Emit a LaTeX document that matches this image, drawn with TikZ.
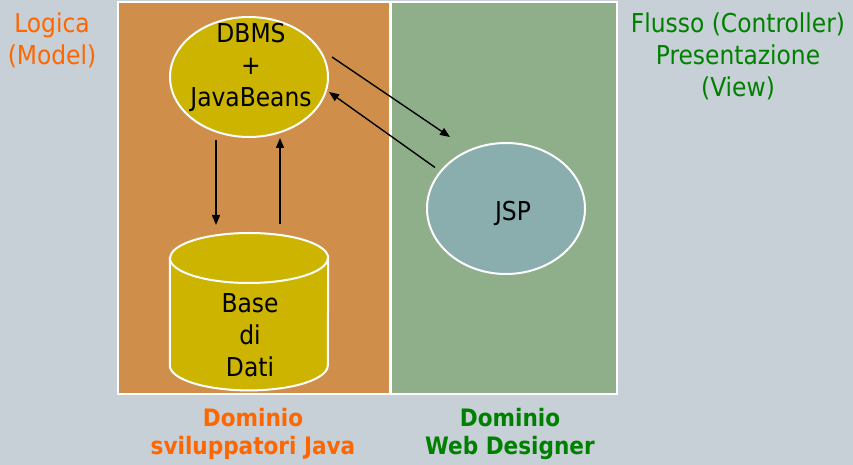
\documentclass[tikz,border=0pt]{standalone}
\usepackage{fontspec}
\setmainfont{DejaVu Sans Condensed}
\usetikzlibrary{shapes.geometric,arrows.meta,calc}
\definecolor{bgc}{RGB}{198,208,214}
\definecolor{orangep}{RGB}{208,142,75}
\definecolor{greenp}{RGB}{143,175,139}
\definecolor{yell}{RGB}{204,180,0}
\definecolor{jspc}{RGB}{138,173,173}
\definecolor{otext}{RGB}{255,102,0}
\definecolor{gtext}{RGB}{0,128,0}
\begin{document}
\begin{tikzpicture}[x=1pt,y=1pt,
  panel/.style={draw=white,line width=2pt,minimum height=392pt,inner sep=0pt,anchor=north west},
  blob/.style={ellipse,draw=white,line width=2pt,inner sep=0pt,minimum width=158pt},
  lbl/.style={font=\fontsize{26}{32}\selectfont,align=center,anchor=base,inner sep=0pt},
  blbl/.style={font=\bfseries\fontsize{24}{28}\selectfont,align=center,anchor=base,inner sep=0pt},
  txt/.style={font=\fontsize{26}{32}\selectfont,align=center,anchor=base,inner sep=0pt},
  arr/.style={line width=1.4pt,-{Triangle[length=10pt,width=8pt]}}]
\fill[bgc] (0,0) rectangle (853,465);
\useasboundingbox (0,0) rectangle (853,465);
% panels
\node[panel,fill=orangep,minimum width=272pt] (java) at (117,464) {};
\node[panel,fill=greenp,minimum width=226pt] (web) at (390,464) {};
% DBMS ellipse
\node[blob,fill=yell,minimum height=120pt] (dbms) at (249,388) {};
\node[txt] (dbmst) at (251,358) {DBMS\\+\\JavaBeans};
% JSP ellipse
\node[blob,fill=jspc,minimum height=131pt] (jsp) at (506,256.5) {};
\node[txt] (jspt) at (513,244) {JSP};
% cylinder
\node[minimum width=158pt,minimum height=157pt,inner sep=0pt,anchor=north] (db) at (249,232) {};
\fill[yell,draw=white,line width=2pt]
  ($(db.north west)+(0,-25)$) -- ($(db.south west)+(0,25)$)
  arc[start angle=180,end angle=360,x radius=79pt,y radius=25pt]
  -- ($(db.north east)+(0,-25)$)
  arc[start angle=0,end angle=180,x radius=79pt,y radius=25pt] -- cycle;
\draw[white,line width=2pt] ($(db.north west)+(0,-25)$)
  arc[start angle=180,end angle=360,x radius=79pt,y radius=25pt];
\node[txt] (dbt) at (250,88) {Base\\di\\Dati};
% arrows
\draw[arr] ($(dbms.center)+(-33,-63)$) -- ($(db.north)+(-33,8)$);
\draw[arr] ($(db.north)+(31,9)$) -- ($(dbms.center)+(31,-61)$);
\draw[arr] ($(dbms.center)+(83,20)$) -- ($(jsp.center)+(-56,71.5)$);
\draw[arr] ($(jsp.center)+(-71,41)$) -- ($(dbms.center)+(80,-15)$);
% side labels
\node[lbl,text=otext] (model) at (52,400) {Logica\\(Model)};
\node[lbl,text=gtext] (view) at (738,368) {Flusso (Controller)\\Presentazione\\(View)};
\node[blbl,text=otext] (djava) at (253,10) {Dominio\\sviluppatori Java};
\node[blbl,text=gtext] (dweb) at (510,10) {Dominio\\Web Designer};
\end{tikzpicture}
\end{document}
